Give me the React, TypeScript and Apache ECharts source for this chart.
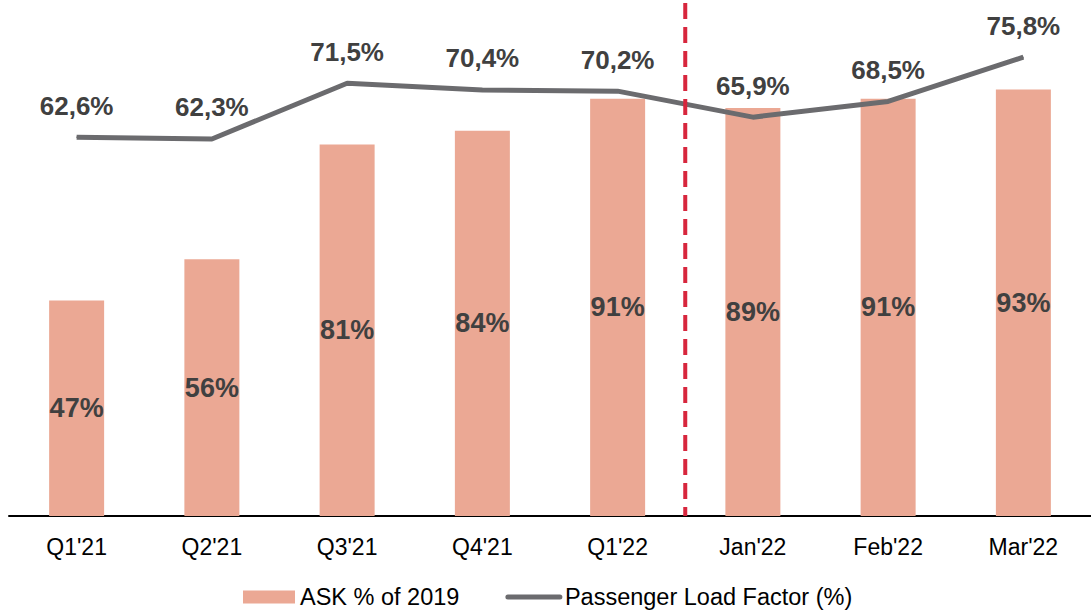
import React, { useEffect, useRef } from "react";
import * as echarts from "echarts";

const categories = ["Q1'21", "Q2'21", "Q3'21", "Q4'21", "Q1'22", "Jan'22", "Feb'22", "Mar'22"];
const askValues = [47, 56, 81, 84, 91, 89, 91, 93];
const loadFactorValues = [62.6, 62.3, 71.5, 70.4, 70.2, 65.9, 68.5, 75.8];
const seriesNames = ["ASK % of 2019", "Passenger Load Factor (%)"];

const FONT = "'Liberation Sans', Arial, sans-serif";
const LINE_COLOR = "#6B6B6E";

export default function App() {
  const ref = useRef<HTMLDivElement>(null);
  useEffect(() => {
    if (!ref.current) return;
    const chart = echarts.init(ref.current, null, { renderer: "svg" });
    chart.setOption({
      animation: false,
      textStyle: { fontFamily: FONT },
      grid: { left: 9, right: -4, top: 30, bottom: 98, containLabel: false },
      legend: {
        top: 580,
        left: 238,
        itemGap: 46,
        itemWidth: 52,
        itemHeight: 13,
        textStyle: { fontSize: 23.5, color: "#000", fontFamily: FONT },
        data: [
          { name: seriesNames[0], icon: "rect" },
          {
            name: seriesNames[1],
            itemStyle: { color: "rgba(0,0,0,0)", borderWidth: 0 },
            lineStyle: { color: LINE_COLOR, width: 5, cap: "round" },
          },
        ],
      },
      xAxis: {
        type: "category",
        data: categories,
        axisTick: { show: false },
        axisLine: { lineStyle: { color: "#000", width: 2 } },
        axisLabel: { fontSize: 23, color: "#000", margin: 19, fontFamily: FONT },
      },
      yAxis: [
        { type: "value", min: 0, max: 106, show: false, splitLine: { show: false } },
        { type: "value", min: 0, max: 80.3, show: false, splitLine: { show: false } },
      ],
      series: [
        {
          name: seriesNames[0],
          type: "bar",
          data: askValues,
          barWidth: 55,
          itemStyle: { color: "#EBA894" },
          label: {
            show: true,
            position: "inside",
            formatter: (p: any) => p.value + "%",
            fontSize: 27,
            fontWeight: "bold",
            color: "#404040",
            fontFamily: FONT,
          },
        },
        {
          name: seriesNames[1],
          type: "line",
          yAxisIndex: 1,
          data: loadFactorValues,
          symbol: "circle",
          symbolSize: 1,
          showSymbol: true,
          lineStyle: { color: LINE_COLOR, width: 5 },
          itemStyle: { color: LINE_COLOR },
          label: {
            show: true,
            position: "top",
            distance: 18,
            formatter: (p: any) => p.value.toFixed(1).replace(".", ",") + "%",
            fontSize: 26,
            fontWeight: "bold",
            color: "#404040",
            fontFamily: FONT,
          },
        },
      ],
    });
    const x1 = chart.convertToPixel({ xAxisIndex: 0 }, categories[4]) as number;
    const x2 = chart.convertToPixel({ xAxisIndex: 0 }, categories[5]) as number;
    const yBase = chart.convertToPixel({ yAxisIndex: 0 }, 0) as number;
    const xm = (x1 + x2) / 2;
    chart.setOption({
      graphic: [
        {
          type: "line",
          shape: { x1: xm, y1: 3, x2: xm, y2: yBase },
          style: { stroke: "#D7263D", lineWidth: 4, lineDash: [16, 8] },
          z: 10,
        },
      ],
    });
    return () => chart.dispose();
  }, []);
  return (
    <div
      ref={ref}
      style={{ position: "fixed", left: 0, top: 0, width: 1091, height: 614, background: "#fff" }}
    />
  );
}
